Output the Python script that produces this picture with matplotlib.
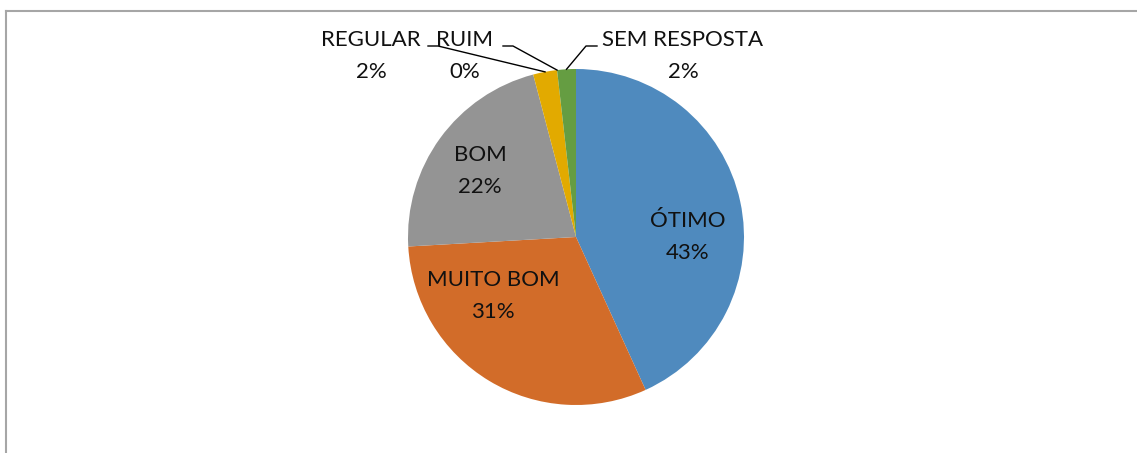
import numpy as np
import matplotlib.pyplot as plt
from matplotlib.lines import Line2D

plt.rcParams['font.family'] = ['Lato', 'DejaVu Sans']

categories = ['ÓTIMO', 'MUITO BOM', 'BOM', 'REGULAR', 'RUIM', 'SEM RESPOSTA']
values = [43.2, 30.9, 21.8, 2.3, 0.0, 1.8]
pct_labels = ['43%', '31%', '22%', '2%', '0%', '2%']
colors = ['#4f8abe', '#d26c29', '#949494', '#e2aa00', '#c0504d', '#659d42']

W, H = 1137, 453
fig = plt.figure(figsize=(W / 100, H / 100), dpi=100)
ax = fig.add_axes([0, 0, 1, 1])

cx, cy, r = 576, H - 237, 168
wedges, _ = ax.pie(values, colors=colors, startangle=90, counterclock=False,
                   center=(cx, cy), radius=r, frame=True,
                   wedgeprops=dict(linewidth=0))
ax.set_xlim(0, W)
ax.set_ylim(0, H)
ax.set_aspect('equal')
ax.axis('off')

fs = 16
# labels inside slices
inside = {0: (688, 237), 1: (493, 296), 2: (480, 171)}
for i, (px, py) in inside.items():
    ax.text(px, H - py, categories[i] + '\n' + pct_labels[i], ha='center', va='center',
            fontsize=fs, linespacing=1.7, color='#111111')

# outside labels with leader lines
outside = {3: (371, 56, 438, 428, 'reg'), 4: (465, 56, 513, 503, 'ruim'),
           5: (683, 56, 586, 597, 'sem')}
for i, (px, py, lx0, lx1, kind) in outside.items():
    ax.text(px, H - py, categories[i] + '\n' + pct_labels[i], ha='center', va='center',
            fontsize=fs, linespacing=1.7, color='#111111')
    w = wedges[i]
    if kind == 'ruim':
        ang = np.deg2rad(w.theta1)
    else:
        ang = np.deg2rad((w.theta1 + w.theta2) / 2)
    ex, ey = cx + r * np.cos(ang), cy + r * np.sin(ang)
    ax.plot([lx1, lx0, ex], [H - 46, H - 46, ey], color='black', lw=1.0)

# chart area border (top and left only)
fig.add_artist(Line2D([5.5 / W, 1], [1 - 10.5 / H, 1 - 10.5 / H], color='#a6a6a6', lw=1.5))
fig.add_artist(Line2D([5.5 / W, 5.5 / W], [0, 1 - 10.5 / H], color='#a6a6a6', lw=1.5))

fig.savefig('out.png', dpi=100)
